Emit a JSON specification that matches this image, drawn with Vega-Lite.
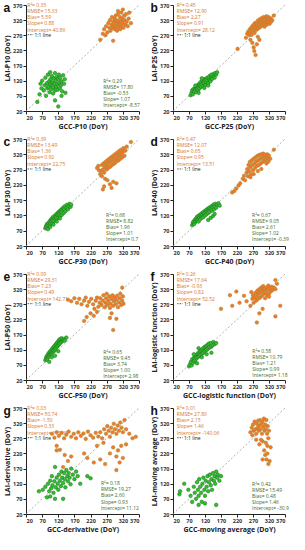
{
"$schema": "https://vega.github.io/schema/vega-lite/v6.json",
"padding": {"left": 3, "top": 2, "right": 2, "bottom": 2},
"config": {
  "view": {"stroke": null},
  "font": "Open Sans",
  "title": {"anchor": "start", "frame": "bounds", "fontSize": 12, "fontWeight": "bold", "font": "Liberation Sans", "offset": -12, "color": "#111"},
  "axis": {"grid": false, "labelFontSize": 5.5, "titleFontSize": 7, "labelFontWeight": "bold", "titleFontWeight": "bold", "domainColor": "#222", "tickColor": "#222", "tickSize": 3, "labelPadding": 1, "titlePadding": 2, "labelColor": "#333", "titleColor": "#222", "labelFont": "Open Sans", "titleFont": "Open Sans"}
},
"datasets": {
"ag": [{"x":55,"y":50},{"x":62,"y":75},{"x":68,"y":95},{"x":70,"y":120},{"x":75,"y":88},{"x":78,"y":105},{"x":80,"y":130},{"x":82,"y":70},{"x":85,"y":112},{"x":86,"y":95},{"x":88,"y":140},{"x":90,"y":100},{"x":92,"y":118},{"x":93,"y":82},{"x":95,"y":108},{"x":96,"y":125},{"x":98,"y":92},{"x":100,"y":135},{"x":100,"y":102},{"x":102,"y":115},{"x":104,"y":78},{"x":105,"y":98},{"x":106,"y":128},{"x":108,"y":110},{"x":110,"y":88},{"x":110,"y":145},{"x":112,"y":120},{"x":114,"y":100},{"x":115,"y":132},{"x":117,"y":108},{"x":118,"y":90},{"x":120,"y":125},{"x":122,"y":140},{"x":123,"y":112},{"x":125,"y":95},{"x":126,"y":130},{"x":128,"y":105},{"x":130,"y":118},{"x":132,"y":85},{"x":135,"y":138},{"x":138,"y":110},{"x":140,"y":125},{"x":142,"y":80},{"x":120,"y":35},{"x":110,"y":55},{"x":130,"y":70},{"x":65,"y":110},{"x":95,"y":148}],
"ao": [{"x":250,"y":255},{"x":290,"y":252},{"x":262,"y":290},{"x":268,"y":300},{"x":272,"y":280},{"x":275,"y":310},{"x":278,"y":295},{"x":280,"y":320},{"x":282,"y":285},{"x":285,"y":305},{"x":286,"y":330},{"x":288,"y":295},{"x":290,"y":315},{"x":292,"y":300},{"x":294,"y":325},{"x":295,"y":290},{"x":296,"y":310},{"x":298,"y":335},{"x":300,"y":300},{"x":300,"y":320},{"x":302,"y":285},{"x":304,"y":310},{"x":305,"y":340},{"x":306,"y":295},{"x":308,"y":318},{"x":310,"y":305},{"x":311,"y":330},{"x":312,"y":290},{"x":314,"y":315},{"x":315,"y":345},{"x":316,"y":300},{"x":318,"y":325},{"x":320,"y":310},{"x":322,"y":295},{"x":324,"y":335},{"x":325,"y":320},{"x":328,"y":305},{"x":330,"y":340},{"x":332,"y":315},{"x":335,"y":300},{"x":338,"y":325},{"x":340,"y":345},{"x":345,"y":310},{"x":305,"y":350},{"x":320,"y":355},{"x":258,"y":275},{"x":266,"y":270}],
"bg": [{"x":75,"y":72},{"x":78,"y":80},{"x":80,"y":88},{"x":82,"y":75},{"x":84,"y":92},{"x":86,"y":84},{"x":88,"y":95},{"x":90,"y":90},{"x":92,"y":82},{"x":94,"y":100},{"x":95,"y":93},{"x":97,"y":105},{"x":98,"y":88},{"x":100,"y":98},{"x":102,"y":110},{"x":103,"y":95},{"x":105,"y":104},{"x":106,"y":115},{"x":108,"y":100},{"x":110,"y":108},{"x":111,"y":120},{"x":113,"y":103},{"x":115,"y":114},{"x":116,"y":125},{"x":118,"y":110},{"x":120,"y":118},{"x":121,"y":106},{"x":123,"y":126},{"x":125,"y":115},{"x":127,"y":130},{"x":128,"y":120},{"x":130,"y":112},{"x":132,"y":128},{"x":134,"y":135},{"x":135,"y":122},{"x":137,"y":118},{"x":139,"y":132},{"x":140,"y":140},{"x":142,"y":126},{"x":145,"y":135},{"x":147,"y":142},{"x":150,"y":130},{"x":152,"y":145},{"x":155,"y":140},{"x":158,"y":148},{"x":100,"y":80},{"x":118,"y":96},{"x":130,"y":104},{"x":110,"y":128},{"x":90,"y":104}],
"bo": [{"x":222,"y":225},{"x":248,"y":262},{"x":252,"y":275},{"x":255,"y":282},{"x":258,"y":270},{"x":260,"y":290},{"x":262,"y":280},{"x":265,"y":295},{"x":266,"y":272},{"x":268,"y":300},{"x":270,"y":285},{"x":272,"y":305},{"x":274,"y":292},{"x":275,"y":278},{"x":276,"y":310},{"x":278,"y":298},{"x":280,"y":288},{"x":282,"y":312},{"x":283,"y":300},{"x":285,"y":318},{"x":286,"y":292},{"x":288,"y":305},{"x":290,"y":322},{"x":291,"y":296},{"x":293,"y":312},{"x":295,"y":300},{"x":296,"y":326},{"x":298,"y":315},{"x":300,"y":305},{"x":302,"y":320},{"x":303,"y":330},{"x":305,"y":310},{"x":306,"y":298},{"x":308,"y":325},{"x":310,"y":315},{"x":312,"y":333},{"x":313,"y":305},{"x":315,"y":322},{"x":317,"y":312},{"x":318,"y":330},{"x":320,"y":318},{"x":322,"y":308},{"x":325,"y":326},{"x":327,"y":315},{"x":330,"y":320},{"x":335,"y":335},{"x":268,"y":245},{"x":272,"y":230},{"x":274,"y":218},{"x":278,"y":205},{"x":282,"y":240},{"x":290,"y":255},{"x":262,"y":255},{"x":285,"y":265}],
"cg": [{"x":80,"y":78},{"x":82,"y":85},{"x":84,"y":80},{"x":85,"y":92},{"x":87,"y":88},{"x":88,"y":75},{"x":90,"y":95},{"x":92,"y":86},{"x":93,"y":100},{"x":95,"y":92},{"x":96,"y":105},{"x":98,"y":98},{"x":100,"y":110},{"x":101,"y":94},{"x":103,"y":104},{"x":104,"y":115},{"x":106,"y":100},{"x":108,"y":112},{"x":110,"y":120},{"x":111,"y":106},{"x":113,"y":116},{"x":115,"y":125},{"x":116,"y":110},{"x":118,"y":122},{"x":120,"y":130},{"x":121,"y":114},{"x":123,"y":126},{"x":125,"y":135},{"x":126,"y":118},{"x":128,"y":130},{"x":130,"y":140},{"x":131,"y":122},{"x":133,"y":135},{"x":135,"y":145},{"x":137,"y":128},{"x":138,"y":140},{"x":140,"y":150},{"x":142,"y":134},{"x":145,"y":145},{"x":147,"y":155},{"x":150,"y":140},{"x":152,"y":150},{"x":155,"y":158},{"x":158,"y":148},{"x":160,"y":155},{"x":95,"y":82},{"x":105,"y":90},{"x":115,"y":100},{"x":125,"y":110}],
"co": [{"x":240,"y":275},{"x":244,"y":282},{"x":246,"y":268},{"x":250,"y":255},{"x":252,"y":265},{"x":255,"y":285},{"x":258,"y":270},{"x":260,"y":290},{"x":262,"y":260},{"x":264,"y":278},{"x":266,"y":295},{"x":268,"y":283},{"x":270,"y":270},{"x":272,"y":300},{"x":274,"y":288},{"x":276,"y":276},{"x":278,"y":305},{"x":280,"y":293},{"x":282,"y":280},{"x":284,"y":310},{"x":286,"y":298},{"x":288,"y":286},{"x":290,"y":315},{"x":292,"y":303},{"x":294,"y":290},{"x":296,"y":320},{"x":298,"y":308},{"x":300,"y":296},{"x":302,"y":325},{"x":304,"y":313},{"x":306,"y":300},{"x":308,"y":330},{"x":310,"y":318},{"x":312,"y":305},{"x":314,"y":335},{"x":316,"y":322},{"x":318,"y":310},{"x":320,"y":328},{"x":322,"y":340},{"x":325,"y":315},{"x":328,"y":332},{"x":332,"y":345},{"x":345,"y":360},{"x":265,"y":240},{"x":272,"y":235},{"x":280,"y":222},{"x":285,"y":210},{"x":258,"y":205},{"x":262,"y":215},{"x":290,"y":230},{"x":300,"y":225},{"x":255,"y":248}],
"dg": [{"x":80,"y":88},{"x":82,"y":95},{"x":84,"y":100},{"x":86,"y":92},{"x":88,"y":105},{"x":90,"y":98},{"x":92,"y":110},{"x":94,"y":102},{"x":95,"y":115},{"x":97,"y":106},{"x":99,"y":118},{"x":100,"y":100},{"x":102,"y":112},{"x":104,"y":122},{"x":105,"y":108},{"x":107,"y":118},{"x":109,"y":126},{"x":110,"y":112},{"x":112,"y":122},{"x":114,"y":130},{"x":115,"y":115},{"x":117,"y":126},{"x":119,"y":134},{"x":120,"y":120},{"x":122,"y":130},{"x":124,"y":138},{"x":125,"y":124},{"x":127,"y":134},{"x":129,"y":142},{"x":130,"y":128},{"x":132,"y":138},{"x":134,"y":146},{"x":135,"y":132},{"x":137,"y":142},{"x":140,"y":150},{"x":142,"y":136},{"x":144,"y":146},{"x":146,"y":155},{"x":148,"y":140},{"x":150,"y":150},{"x":152,"y":158},{"x":155,"y":145},{"x":158,"y":155},{"x":162,"y":160},{"x":166,"y":152},{"x":130,"y":105},{"x":138,"y":112},{"x":145,"y":118},{"x":150,"y":125}],
"do": [{"x":205,"y":195},{"x":212,"y":200},{"x":218,"y":208},{"x":225,"y":218},{"x":230,"y":225},{"x":238,"y":240},{"x":242,"y":250},{"x":245,"y":235},{"x":250,"y":260},{"x":252,"y":272},{"x":254,"y":248},{"x":256,"y":285},{"x":258,"y":265},{"x":260,"y":295},{"x":262,"y":278},{"x":264,"y":255},{"x":266,"y":300},{"x":268,"y":285},{"x":270,"y":268},{"x":272,"y":305},{"x":274,"y":290},{"x":276,"y":275},{"x":278,"y":310},{"x":280,"y":296},{"x":282,"y":282},{"x":284,"y":315},{"x":286,"y":300},{"x":288,"y":285},{"x":290,"y":318},{"x":292,"y":305},{"x":294,"y":290},{"x":296,"y":320},{"x":298,"y":308},{"x":300,"y":295},{"x":302,"y":322},{"x":304,"y":312},{"x":306,"y":298},{"x":308,"y":318},{"x":310,"y":305},{"x":312,"y":290},{"x":314,"y":320},{"x":316,"y":308},{"x":318,"y":296},{"x":320,"y":315},{"x":324,"y":305},{"x":335,"y":335},{"x":262,"y":245},{"x":272,"y":255},{"x":285,"y":265},{"x":296,"y":272}],
"eg": [{"x":80,"y":85},{"x":82,"y":92},{"x":84,"y":98},{"x":85,"y":88},{"x":87,"y":102},{"x":88,"y":94},{"x":90,"y":108},{"x":91,"y":98},{"x":93,"y":112},{"x":94,"y":102},{"x":96,"y":115},{"x":97,"y":105},{"x":99,"y":120},{"x":100,"y":108},{"x":102,"y":124},{"x":103,"y":112},{"x":105,"y":128},{"x":106,"y":116},{"x":108,"y":132},{"x":109,"y":120},{"x":111,"y":136},{"x":112,"y":124},{"x":114,"y":140},{"x":115,"y":128},{"x":117,"y":144},{"x":118,"y":132},{"x":120,"y":148},{"x":121,"y":136},{"x":123,"y":152},{"x":124,"y":140},{"x":126,"y":155},{"x":128,"y":144},{"x":130,"y":158},{"x":132,"y":148},{"x":135,"y":152},{"x":138,"y":156},{"x":140,"y":150},{"x":145,"y":160},{"x":110,"y":100},{"x":100,"y":95},{"x":120,"y":115},{"x":92,"y":80}],
"eo": [{"x":150,"y":285},{"x":160,"y":280},{"x":170,"y":290},{"x":178,"y":275},{"x":185,"y":288},{"x":192,"y":270},{"x":200,"y":282},{"x":205,"y":292},{"x":210,"y":265},{"x":215,"y":278},{"x":222,"y":288},{"x":228,"y":270},{"x":232,"y":255},{"x":236,"y":282},{"x":240,"y":292},{"x":244,"y":262},{"x":248,"y":275},{"x":250,"y":290},{"x":254,"y":268},{"x":258,"y":282},{"x":260,"y":300},{"x":264,"y":260},{"x":266,"y":275},{"x":268,"y":290},{"x":270,"y":305},{"x":272,"y":268},{"x":275,"y":282},{"x":278,"y":296},{"x":280,"y":258},{"x":282,"y":272},{"x":285,"y":288},{"x":288,"y":300},{"x":290,"y":265},{"x":292,"y":280},{"x":295,"y":292},{"x":298,"y":270},{"x":300,"y":284},{"x":302,"y":298},{"x":305,"y":260},{"x":308,"y":276},{"x":310,"y":290},{"x":312,"y":305},{"x":315,"y":268},{"x":318,"y":282},{"x":320,"y":296},{"x":322,"y":272},{"x":318,"y":325},{"x":200,"y":215},{"x":208,"y":228},{"x":220,"y":240},{"x":230,"y":232},{"x":280,"y":225},{"x":285,"y":240},{"x":290,"y":185},{"x":300,"y":222},{"x":240,"y":245}],
"fg": [{"x":70,"y":65},{"x":73,"y":72},{"x":76,"y":80},{"x":78,"y":68},{"x":80,"y":88},{"x":82,"y":76},{"x":85,"y":92},{"x":86,"y":82},{"x":88,"y":98},{"x":90,"y":86},{"x":92,"y":102},{"x":94,"y":92},{"x":96,"y":106},{"x":98,"y":96},{"x":100,"y":110},{"x":102,"y":100},{"x":104,"y":114},{"x":106,"y":104},{"x":108,"y":118},{"x":110,"y":106},{"x":112,"y":122},{"x":114,"y":110},{"x":116,"y":126},{"x":118,"y":114},{"x":120,"y":130},{"x":122,"y":118},{"x":124,"y":132},{"x":126,"y":120},{"x":128,"y":136},{"x":130,"y":124},{"x":132,"y":140},{"x":135,"y":128},{"x":138,"y":142},{"x":140,"y":130},{"x":143,"y":135},{"x":146,"y":145},{"x":150,"y":138},{"x":155,"y":142},{"x":95,"y":75},{"x":110,"y":95},{"x":125,"y":105},{"x":140,"y":110},{"x":85,"y":105},{"x":100,"y":125}],
"fo": [{"x":170,"y":255},{"x":198,"y":300},{"x":205,"y":265},{"x":218,"y":312},{"x":228,"y":275},{"x":242,"y":298},{"x":250,"y":280},{"x":262,"y":265},{"x":268,"y":288},{"x":270,"y":300},{"x":272,"y":275},{"x":275,"y":292},{"x":278,"y":308},{"x":280,"y":282},{"x":282,"y":298},{"x":284,"y":315},{"x":286,"y":288},{"x":288,"y":305},{"x":290,"y":320},{"x":292,"y":292},{"x":294,"y":310},{"x":296,"y":325},{"x":298,"y":298},{"x":300,"y":315},{"x":302,"y":330},{"x":304,"y":305},{"x":306,"y":320},{"x":308,"y":290},{"x":310,"y":310},{"x":312,"y":325},{"x":314,"y":300},{"x":316,"y":318},{"x":318,"y":332},{"x":320,"y":305},{"x":322,"y":322},{"x":325,"y":312},{"x":328,"y":328},{"x":330,"y":316},{"x":335,"y":325},{"x":340,"y":320},{"x":345,"y":338},{"x":340,"y":350},{"x":355,"y":265},{"x":340,"y":230},{"x":282,"y":210},{"x":290,"y":240},{"x":300,"y":255},{"x":265,"y":310},{"x":320,"y":295}],
"gg": [{"x":60,"y":95},{"x":72,"y":100},{"x":80,"y":110},{"x":85,"y":75},{"x":88,"y":120},{"x":92,"y":95},{"x":95,"y":130},{"x":98,"y":105},{"x":100,"y":145},{"x":102,"y":115},{"x":105,"y":90},{"x":108,"y":128},{"x":110,"y":175},{"x":112,"y":108},{"x":115,"y":140},{"x":118,"y":120},{"x":120,"y":100},{"x":122,"y":150},{"x":125,"y":130},{"x":128,"y":112},{"x":130,"y":160},{"x":132,"y":140},{"x":135,"y":122},{"x":138,"y":155},{"x":140,"y":135},{"x":142,"y":108},{"x":145,"y":165},{"x":148,"y":145},{"x":150,"y":128},{"x":152,"y":155},{"x":155,"y":140},{"x":158,"y":118},{"x":160,"y":170},{"x":165,"y":150},{"x":170,"y":135},{"x":175,"y":160},{"x":180,"y":145},{"x":188,"y":120},{"x":110,"y":70},{"x":135,"y":70},{"x":95,"y":78},{"x":210,"y":145},{"x":220,"y":138}],
"go": [{"x":100,"y":285},{"x":108,"y":272},{"x":115,"y":290},{"x":122,"y":278},{"x":130,"y":288},{"x":138,"y":270},{"x":145,"y":282},{"x":152,"y":292},{"x":160,"y":275},{"x":168,"y":285},{"x":175,"y":270},{"x":182,"y":290},{"x":190,"y":278},{"x":198,"y":286},{"x":205,"y":268},{"x":212,"y":292},{"x":220,"y":280},{"x":228,"y":272},{"x":236,"y":288},{"x":244,"y":276},{"x":250,"y":290},{"x":256,"y":270},{"x":262,"y":300},{"x":268,"y":285},{"x":272,"y":310},{"x":276,"y":295},{"x":280,"y":275},{"x":284,"y":305},{"x":288,"y":290},{"x":292,"y":318},{"x":296,"y":300},{"x":300,"y":285},{"x":304,"y":312},{"x":308,"y":295},{"x":312,"y":322},{"x":316,"y":305},{"x":320,"y":290},{"x":325,"y":330},{"x":330,"y":300},{"x":340,"y":285},{"x":350,"y":270},{"x":360,"y":275},{"x":115,"y":245},{"x":125,"y":232},{"x":140,"y":215},{"x":150,"y":195},{"x":160,"y":210},{"x":135,"y":175},{"x":200,"y":220},{"x":210,"y":205},{"x":230,"y":190},{"x":250,"y":200},{"x":265,"y":185},{"x":280,"y":220},{"x":290,"y":240},{"x":300,"y":210},{"x":305,"y":230},{"x":310,"y":190},{"x":320,"y":205},{"x":315,"y":245},{"x":330,"y":250},{"x":300,"y":165},{"x":260,"y":255},{"x":240,"y":245},{"x":115,"y":230}],
"hg": [{"x":40,"y":85},{"x":42,"y":95},{"x":55,"y":120},{"x":68,"y":100},{"x":75,"y":80},{"x":80,"y":60},{"x":85,"y":110},{"x":88,"y":90},{"x":92,"y":70},{"x":95,"y":125},{"x":98,"y":100},{"x":100,"y":80},{"x":102,"y":135},{"x":105,"y":110},{"x":108,"y":90},{"x":110,"y":60},{"x":112,"y":120},{"x":115,"y":140},{"x":118,"y":100},{"x":120,"y":80},{"x":122,"y":130},{"x":125,"y":110},{"x":128,"y":145},{"x":130,"y":95},{"x":132,"y":125},{"x":135,"y":150},{"x":138,"y":115},{"x":140,"y":135},{"x":142,"y":100},{"x":145,"y":155},{"x":148,"y":130},{"x":150,"y":145},{"x":152,"y":120},{"x":155,"y":160},{"x":158,"y":140},{"x":160,"y":150},{"x":165,"y":130},{"x":155,"y":50},{"x":120,"y":55},{"x":100,"y":50},{"x":170,"y":145}],
"ho": [{"x":262,"y":290},{"x":266,"y":305},{"x":268,"y":280},{"x":270,"y":315},{"x":272,"y":295},{"x":275,"y":325},{"x":278,"y":300},{"x":280,"y":285},{"x":282,"y":318},{"x":284,"y":305},{"x":286,"y":328},{"x":288,"y":295},{"x":290,"y":312},{"x":292,"y":330},{"x":294,"y":300},{"x":296,"y":318},{"x":298,"y":285},{"x":300,"y":325},{"x":302,"y":308},{"x":304,"y":335},{"x":306,"y":295},{"x":308,"y":315},{"x":310,"y":300},{"x":312,"y":330},{"x":314,"y":285},{"x":316,"y":310},{"x":318,"y":270},{"x":320,"y":295},{"x":310,"y":255},{"x":315,"y":245},{"x":305,"y":230},{"x":300,"y":260},{"x":295,"y":265},{"x":308,"y":215},{"x":312,"y":200},{"x":318,"y":185},{"x":322,"y":195},{"x":315,"y":220},{"x":325,"y":240},{"x":290,"y":250},{"x":280,"y":265},{"x":300,"y":200}]
},
"vconcat": [
{"hconcat": [
{"title": "a", "width": 113, "height": 106, "layer": [
 {"data": {"name": "ag"}, "mark": {"type": "circle", "size": 13, "color": "#2cc22c", "stroke": "#1f6a1a", "strokeWidth": 0.5, "opacity": 1}, "encoding": {"x": {"field": "x", "type": "quantitative", "scale": {"domain": [20, 370], "nice": false, "zero": false}, "axis": {"title": "GCC-P10 (DoY)", "labelOverlap": false, "tickCount": 20, "values": [20, 70, 120, 170, 220, 270, 320, 370]}}, "y": {"field": "y", "type": "quantitative", "scale": {"domain": [20, 370], "nice": false, "zero": false}, "axis": {"title": "LAI-P10 (DoY)", "labelOverlap": false, "tickCount": 20, "values": [20, 70, 120, 170, 220, 270, 320, 370]}}}},
 {"data": {"values": [{}]}, "mark": {"type": "rule", "strokeDash": [2, 2], "color": "#8c8c8c", "strokeWidth": 0.7}, "encoding": {"x": {"datum": 20}, "y": {"datum": 20}, "x2": {"datum": 370}, "y2": {"datum": 370}}},
 {"data": {"name": "ao"}, "mark": {"type": "circle", "size": 13, "color": "#f7762b", "stroke": "#9a8d2e", "strokeWidth": 0.5, "opacity": 1}, "encoding": {"x": {"field": "x", "type": "quantitative"}, "y": {"field": "y", "type": "quantitative"}}},
 {"data": {"values": [{}]}, "mark": {"type": "text", "align": "left", "baseline": "top", "fontSize": 5, "color": "#d4762a", "lineBreak": "\n", "lineHeight": 6.1}, "encoding": {"x": {"datum": 24}, "y": {"datum": 376}, "text": {"value": "R²= 0.33\nRMSE= 15.33\nBias= 5.59\nSlope= 0.88\nIntercept= 40.86"}}},
 {"data": {"values": [{}]}, "mark": {"type": "rule", "strokeDash": [1.5, 1], "color": "#111", "strokeWidth": 0.7}, "encoding": {"x": {"datum": 25}, "x2": {"datum": 42}, "y": {"datum": 272}}},
 {"data": {"values": [{}]}, "mark": {"type": "text", "align": "left", "baseline": "middle", "fontSize": 5, "color": "#111"}, "encoding": {"x": {"datum": 46}, "y": {"datum": 272}, "text": {"value": "1:1 line"}}},
 {"data": {"values": [{}]}, "mark": {"type": "text", "align": "left", "baseline": "top", "fontSize": 5, "color": "#3d6b1e", "lineBreak": "\n", "lineHeight": 6.1}, "encoding": {"x": {"datum": 259}, "y": {"datum": 126}, "text": {"value": "R²= 0.29\nRMSE= 17.80\nBias= -0.53\nSlope= 1.07\nIntercept= -8.57"}}}
]},
{"title": "b", "width": 112, "height": 106, "layer": [
 {"data": {"name": "bg"}, "mark": {"type": "circle", "size": 13, "color": "#2cc22c", "stroke": "#1f6a1a", "strokeWidth": 0.5, "opacity": 1}, "encoding": {"x": {"field": "x", "type": "quantitative", "scale": {"domain": [20, 370], "nice": false, "zero": false}, "axis": {"title": "GCC-P25 (DoY)", "labelOverlap": false, "tickCount": 20, "values": [20, 70, 120, 170, 220, 270, 320, 370]}}, "y": {"field": "y", "type": "quantitative", "scale": {"domain": [20, 370], "nice": false, "zero": false}, "axis": {"title": "LAI-P25 (DoY)", "labelOverlap": false, "tickCount": 20, "values": [20, 70, 120, 170, 220, 270, 320, 370]}}}},
 {"data": {"values": [{}]}, "mark": {"type": "rule", "strokeDash": [2, 2], "color": "#8c8c8c", "strokeWidth": 0.7}, "encoding": {"x": {"datum": 20}, "y": {"datum": 20}, "x2": {"datum": 370}, "y2": {"datum": 370}}},
 {"data": {"name": "bo"}, "mark": {"type": "circle", "size": 13, "color": "#f7762b", "stroke": "#9a8d2e", "strokeWidth": 0.5, "opacity": 1}, "encoding": {"x": {"field": "x", "type": "quantitative"}, "y": {"field": "y", "type": "quantitative"}}},
 {"data": {"values": [{}]}, "mark": {"type": "text", "align": "left", "baseline": "top", "fontSize": 5, "color": "#d4762a", "lineBreak": "\n", "lineHeight": 6.1}, "encoding": {"x": {"datum": 32}, "y": {"datum": 376}, "text": {"value": "R²= 0.45\nRMSE= 12.90\nBias= 2.27\nSlope= 0.91\nIntercept= 28.12"}}},
 {"data": {"values": [{}]}, "mark": {"type": "rule", "strokeDash": [1.5, 1], "color": "#111", "strokeWidth": 0.7}, "encoding": {"x": {"datum": 33}, "x2": {"datum": 50}, "y": {"datum": 272}}},
 {"data": {"values": [{}]}, "mark": {"type": "text", "align": "left", "baseline": "middle", "fontSize": 5, "color": "#111"}, "encoding": {"x": {"datum": 54}, "y": {"datum": 272}, "text": {"value": "1:1 line"}}}
]}
], "spacing": 10},
{"hconcat": [
{"title": "c", "width": 113, "height": 107, "layer": [
 {"data": {"name": "cg"}, "mark": {"type": "circle", "size": 13, "color": "#2cc22c", "stroke": "#1f6a1a", "strokeWidth": 0.5, "opacity": 1}, "encoding": {"x": {"field": "x", "type": "quantitative", "scale": {"domain": [20, 370], "nice": false, "zero": false}, "axis": {"title": "GCC-P30 (DoY)", "labelOverlap": false, "tickCount": 20, "values": [20, 70, 120, 170, 220, 270, 320, 370]}}, "y": {"field": "y", "type": "quantitative", "scale": {"domain": [20, 370], "nice": false, "zero": false}, "axis": {"title": "LAI-P30 (DoY)", "labelOverlap": false, "tickCount": 20, "values": [20, 70, 120, 170, 220, 270, 320, 370]}}}},
 {"data": {"values": [{}]}, "mark": {"type": "rule", "strokeDash": [2, 2], "color": "#8c8c8c", "strokeWidth": 0.7}, "encoding": {"x": {"datum": 20}, "y": {"datum": 20}, "x2": {"datum": 370}, "y2": {"datum": 370}}},
 {"data": {"name": "co"}, "mark": {"type": "circle", "size": 13, "color": "#f7762b", "stroke": "#9a8d2e", "strokeWidth": 0.5, "opacity": 1}, "encoding": {"x": {"field": "x", "type": "quantitative"}, "y": {"field": "y", "type": "quantitative"}}},
 {"data": {"values": [{}]}, "mark": {"type": "text", "align": "left", "baseline": "top", "fontSize": 5, "color": "#d4762a", "lineBreak": "\n", "lineHeight": 6.1}, "encoding": {"x": {"datum": 24}, "y": {"datum": 376}, "text": {"value": "R²= 0.39\nRMSE= 13.49\nBias= 1.36\nSlope= 0.92\nIntercept= 22.75"}}},
 {"data": {"values": [{}]}, "mark": {"type": "rule", "strokeDash": [1.5, 1], "color": "#111", "strokeWidth": 0.7}, "encoding": {"x": {"datum": 25}, "x2": {"datum": 42}, "y": {"datum": 272}}},
 {"data": {"values": [{}]}, "mark": {"type": "text", "align": "left", "baseline": "middle", "fontSize": 5, "color": "#111"}, "encoding": {"x": {"datum": 46}, "y": {"datum": 272}, "text": {"value": "1:1 line"}}},
 {"data": {"values": [{}]}, "mark": {"type": "text", "align": "left", "baseline": "top", "fontSize": 5, "color": "#3d6b1e", "lineBreak": "\n", "lineHeight": 6.1}, "encoding": {"x": {"datum": 268}, "y": {"datum": 128}, "text": {"value": "R²= 0.68\nRMSE= 8.82\nBias= 1.96\nSlope= 1.01\nIntercept= 0.7"}}}
]},
{"title": "d", "width": 112, "height": 107, "layer": [
 {"data": {"name": "dg"}, "mark": {"type": "circle", "size": 13, "color": "#2cc22c", "stroke": "#1f6a1a", "strokeWidth": 0.5, "opacity": 1}, "encoding": {"x": {"field": "x", "type": "quantitative", "scale": {"domain": [20, 370], "nice": false, "zero": false}, "axis": {"title": "GCC-P40 (DoY)", "labelOverlap": false, "tickCount": 20, "values": [20, 70, 120, 170, 220, 270, 320, 370]}}, "y": {"field": "y", "type": "quantitative", "scale": {"domain": [20, 370], "nice": false, "zero": false}, "axis": {"title": "LAI-P40 (DoY)", "labelOverlap": false, "tickCount": 20, "values": [20, 70, 120, 170, 220, 270, 320, 370]}}}},
 {"data": {"values": [{}]}, "mark": {"type": "rule", "strokeDash": [2, 2], "color": "#8c8c8c", "strokeWidth": 0.7}, "encoding": {"x": {"datum": 20}, "y": {"datum": 20}, "x2": {"datum": 370}, "y2": {"datum": 370}}},
 {"data": {"name": "do"}, "mark": {"type": "circle", "size": 13, "color": "#f7762b", "stroke": "#9a8d2e", "strokeWidth": 0.5, "opacity": 1}, "encoding": {"x": {"field": "x", "type": "quantitative"}, "y": {"field": "y", "type": "quantitative"}}},
 {"data": {"values": [{}]}, "mark": {"type": "text", "align": "left", "baseline": "top", "fontSize": 5, "color": "#d4762a", "lineBreak": "\n", "lineHeight": 6.1}, "encoding": {"x": {"datum": 32}, "y": {"datum": 376}, "text": {"value": "R²= 0.47\nRMSE= 12.07\nBias= 0.65\nSlope= 0.95\nIntercept= 13.51"}}},
 {"data": {"values": [{}]}, "mark": {"type": "rule", "strokeDash": [1.5, 1], "color": "#111", "strokeWidth": 0.7}, "encoding": {"x": {"datum": 33}, "x2": {"datum": 50}, "y": {"datum": 272}}},
 {"data": {"values": [{}]}, "mark": {"type": "text", "align": "left", "baseline": "middle", "fontSize": 5, "color": "#111"}, "encoding": {"x": {"datum": 54}, "y": {"datum": 272}, "text": {"value": "1:1 line"}}},
 {"data": {"values": [{}]}, "mark": {"type": "text", "align": "left", "baseline": "top", "fontSize": 5, "color": "#3d6b1e", "lineBreak": "\n", "lineHeight": 6.1}, "encoding": {"x": {"datum": 267}, "y": {"datum": 128}, "text": {"value": "R²= 0.67\nRMSE= 9.05\nBias= 2.61\nSlope= 1.02\nIntercept= -0.39"}}}
]}
], "spacing": 10},
{"hconcat": [
{"title": "e", "width": 113, "height": 106, "layer": [
 {"data": {"name": "eg"}, "mark": {"type": "circle", "size": 13, "color": "#2cc22c", "stroke": "#1f6a1a", "strokeWidth": 0.5, "opacity": 1}, "encoding": {"x": {"field": "x", "type": "quantitative", "scale": {"domain": [20, 370], "nice": false, "zero": false}, "axis": {"title": "GCC-P50 (DoY)", "labelOverlap": false, "tickCount": 20, "values": [20, 70, 120, 170, 220, 270, 320, 370]}}, "y": {"field": "y", "type": "quantitative", "scale": {"domain": [20, 370], "nice": false, "zero": false}, "axis": {"title": "LAI-P50 (DoY)", "labelOverlap": false, "tickCount": 20, "values": [20, 70, 120, 170, 220, 270, 320, 370]}}}},
 {"data": {"values": [{}]}, "mark": {"type": "rule", "strokeDash": [2, 2], "color": "#8c8c8c", "strokeWidth": 0.7}, "encoding": {"x": {"datum": 20}, "y": {"datum": 20}, "x2": {"datum": 370}, "y2": {"datum": 370}}},
 {"data": {"values": [{}]}, "mark": {"type": "text", "align": "left", "baseline": "top", "fontSize": 5, "color": "#d4762a", "lineBreak": "\n", "lineHeight": 6.1}, "encoding": {"x": {"datum": 24}, "y": {"datum": 376}, "text": {"value": "R²= 0.09\nRMSE= 29.31\nBias= 7.23\nSlope= 0.49\nIntercept= 142.71"}}},
 {"data": {"name": "eo"}, "mark": {"type": "circle", "size": 13, "color": "#f7762b", "stroke": "#9a8d2e", "strokeWidth": 0.5, "opacity": 1}, "encoding": {"x": {"field": "x", "type": "quantitative"}, "y": {"field": "y", "type": "quantitative"}}},
 {"data": {"values": [{}]}, "mark": {"type": "rule", "strokeDash": [1.5, 1], "color": "#111", "strokeWidth": 0.7}, "encoding": {"x": {"datum": 25}, "x2": {"datum": 42}, "y": {"datum": 272}}},
 {"data": {"values": [{}]}, "mark": {"type": "text", "align": "left", "baseline": "middle", "fontSize": 5, "color": "#111"}, "encoding": {"x": {"datum": 46}, "y": {"datum": 272}, "text": {"value": "1:1 line"}}},
 {"data": {"values": [{}]}, "mark": {"type": "text", "align": "left", "baseline": "top", "fontSize": 5, "color": "#3d6b1e", "lineBreak": "\n", "lineHeight": 6.1}, "encoding": {"x": {"datum": 259}, "y": {"datum": 120}, "text": {"value": "R²= 0.65\nRMSE= 9.45\nBias= 3.74\nSlope= 1.00\nIntercept= 2.98"}}}
]},
{"title": "f", "width": 112, "height": 106, "layer": [
 {"data": {"name": "fg"}, "mark": {"type": "circle", "size": 13, "color": "#2cc22c", "stroke": "#1f6a1a", "strokeWidth": 0.5, "opacity": 1}, "encoding": {"x": {"field": "x", "type": "quantitative", "scale": {"domain": [20, 370], "nice": false, "zero": false}, "axis": {"title": "GCC-logistic function (DoY)", "labelOverlap": false, "tickCount": 20, "values": [20, 70, 120, 170, 220, 270, 320, 370]}}, "y": {"field": "y", "type": "quantitative", "scale": {"domain": [20, 370], "nice": false, "zero": false}, "axis": {"title": "LAI-logistic function (DoY)", "labelOverlap": false, "tickCount": 20, "values": [20, 70, 120, 170, 220, 270, 320, 370]}}}},
 {"data": {"values": [{}]}, "mark": {"type": "rule", "strokeDash": [2, 2], "color": "#8c8c8c", "strokeWidth": 0.7}, "encoding": {"x": {"datum": 20}, "y": {"datum": 20}, "x2": {"datum": 370}, "y2": {"datum": 370}}},
 {"data": {"name": "fo"}, "mark": {"type": "circle", "size": 13, "color": "#f7762b", "stroke": "#9a8d2e", "strokeWidth": 0.5, "opacity": 1}, "encoding": {"x": {"field": "x", "type": "quantitative"}, "y": {"field": "y", "type": "quantitative"}}},
 {"data": {"values": [{}]}, "mark": {"type": "text", "align": "left", "baseline": "top", "fontSize": 5, "color": "#d4762a", "lineBreak": "\n", "lineHeight": 6.1}, "encoding": {"x": {"datum": 32}, "y": {"datum": 376}, "text": {"value": "R²= 0.26\nRMSE= 17.64\nBias= -0.93\nSlope= 0.82\nIntercept= 52.52"}}},
 {"data": {"values": [{}]}, "mark": {"type": "rule", "strokeDash": [1.5, 1], "color": "#111", "strokeWidth": 0.7}, "encoding": {"x": {"datum": 33}, "x2": {"datum": 50}, "y": {"datum": 272}}},
 {"data": {"values": [{}]}, "mark": {"type": "text", "align": "left", "baseline": "middle", "fontSize": 5, "color": "#111"}, "encoding": {"x": {"datum": 54}, "y": {"datum": 272}, "text": {"value": "1:1 line"}}},
 {"data": {"values": [{}]}, "mark": {"type": "text", "align": "left", "baseline": "top", "fontSize": 5, "color": "#3d6b1e", "lineBreak": "\n", "lineHeight": 6.1}, "encoding": {"x": {"datum": 268}, "y": {"datum": 123}, "text": {"value": "R²= 0.58\nRMSE= 10.79\nBias= 1.21\nSlope= 0.99\nIntercept= 1.18"}}}
]}
], "spacing": 10},
{"hconcat": [
{"title": "g", "width": 113, "height": 106, "layer": [
 {"data": {"name": "gg"}, "mark": {"type": "circle", "size": 13, "color": "#2cc22c", "stroke": "#1f6a1a", "strokeWidth": 0.5, "opacity": 1}, "encoding": {"x": {"field": "x", "type": "quantitative", "scale": {"domain": [20, 370], "nice": false, "zero": false}, "axis": {"title": "GCC-derivative (DoY)", "labelOverlap": false, "tickCount": 20, "values": [20, 70, 120, 170, 220, 270, 320, 370]}}, "y": {"field": "y", "type": "quantitative", "scale": {"domain": [20, 370], "nice": false, "zero": false}, "axis": {"title": "LAI-derivative (DoY)", "labelOverlap": false, "tickCount": 20, "values": [20, 70, 120, 170, 220, 270, 320, 370]}}}},
 {"data": {"values": [{}]}, "mark": {"type": "rule", "strokeDash": [2, 2], "color": "#8c8c8c", "strokeWidth": 0.7}, "encoding": {"x": {"datum": 20}, "y": {"datum": 20}, "x2": {"datum": 370}, "y2": {"datum": 370}}},
 {"data": {"values": [{}]}, "mark": {"type": "text", "align": "left", "baseline": "top", "fontSize": 5, "color": "#d4762a", "lineBreak": "\n", "lineHeight": 6.1}, "encoding": {"x": {"datum": 24}, "y": {"datum": 376}, "text": {"value": "R²= 0.03\nRMSE= 50.74\nBias= -1.50\nSlope= 0.33\nIntercept= 172.38"}}},
 {"data": {"name": "go"}, "mark": {"type": "circle", "size": 13, "color": "#f7762b", "stroke": "#9a8d2e", "strokeWidth": 0.5, "opacity": 1}, "encoding": {"x": {"field": "x", "type": "quantitative"}, "y": {"field": "y", "type": "quantitative"}}},
 {"data": {"values": [{}]}, "mark": {"type": "rule", "strokeDash": [1.5, 1], "color": "#111", "strokeWidth": 0.7}, "encoding": {"x": {"datum": 25}, "x2": {"datum": 42}, "y": {"datum": 272}}},
 {"data": {"values": [{}]}, "mark": {"type": "text", "align": "left", "baseline": "middle", "fontSize": 5, "color": "#111"}, "encoding": {"x": {"datum": 46}, "y": {"datum": 272}, "text": {"value": "1:1 line"}}},
 {"data": {"values": [{}]}, "mark": {"type": "text", "align": "left", "baseline": "top", "fontSize": 5, "color": "#3d6b1e", "lineBreak": "\n", "lineHeight": 6.1}, "encoding": {"x": {"datum": 252}, "y": {"datum": 128}, "text": {"value": "R²= 0.18\nRMSE= 19.27\nBias= 2.60\nSlope= 0.93\nIntercept= 11.12"}}}
]},
{"title": "h", "width": 112, "height": 106, "layer": [
 {"data": {"name": "hg"}, "mark": {"type": "circle", "size": 13, "color": "#2cc22c", "stroke": "#1f6a1a", "strokeWidth": 0.5, "opacity": 1}, "encoding": {"x": {"field": "x", "type": "quantitative", "scale": {"domain": [20, 370], "nice": false, "zero": false}, "axis": {"title": "GCC-moving average (DoY)", "labelOverlap": false, "tickCount": 20, "values": [20, 70, 120, 170, 220, 270, 320, 370]}}, "y": {"field": "y", "type": "quantitative", "scale": {"domain": [20, 370], "nice": false, "zero": false}, "axis": {"title": "LAI-moving average (DoY)", "labelOverlap": false, "tickCount": 20, "values": [20, 70, 120, 170, 220, 270, 320, 370]}}}},
 {"data": {"values": [{}]}, "mark": {"type": "rule", "strokeDash": [2, 2], "color": "#8c8c8c", "strokeWidth": 0.7}, "encoding": {"x": {"datum": 20}, "y": {"datum": 20}, "x2": {"datum": 370}, "y2": {"datum": 370}}},
 {"data": {"name": "ho"}, "mark": {"type": "circle", "size": 13, "color": "#f7762b", "stroke": "#9a8d2e", "strokeWidth": 0.5, "opacity": 1}, "encoding": {"x": {"field": "x", "type": "quantitative"}, "y": {"field": "y", "type": "quantitative"}}},
 {"data": {"values": [{}]}, "mark": {"type": "text", "align": "left", "baseline": "top", "fontSize": 5, "color": "#d4762a", "lineBreak": "\n", "lineHeight": 6.1}, "encoding": {"x": {"datum": 32}, "y": {"datum": 376}, "text": {"value": "R²= 0.01\nRMSE= 27.80\nBias= 2.15\nSlope= 1.46\nIntercept= -140.06"}}},
 {"data": {"values": [{}]}, "mark": {"type": "rule", "strokeDash": [1.5, 1], "color": "#111", "strokeWidth": 0.7}, "encoding": {"x": {"datum": 33}, "x2": {"datum": 50}, "y": {"datum": 272}}},
 {"data": {"values": [{}]}, "mark": {"type": "text", "align": "left", "baseline": "middle", "fontSize": 5, "color": "#111"}, "encoding": {"x": {"datum": 54}, "y": {"datum": 272}, "text": {"value": "1:1 line"}}},
 {"data": {"values": [{}]}, "mark": {"type": "text", "align": "left", "baseline": "top", "fontSize": 5, "color": "#3d6b1e", "lineBreak": "\n", "lineHeight": 6.1}, "encoding": {"x": {"datum": 267}, "y": {"datum": 127}, "text": {"value": "R²= 0.42\nRMSE= 15.49\nBias= 0.48\nSlope= 1.46\nIntercept= -30.9"}}}
]}
], "spacing": 10}
],
"spacing": 6
}
